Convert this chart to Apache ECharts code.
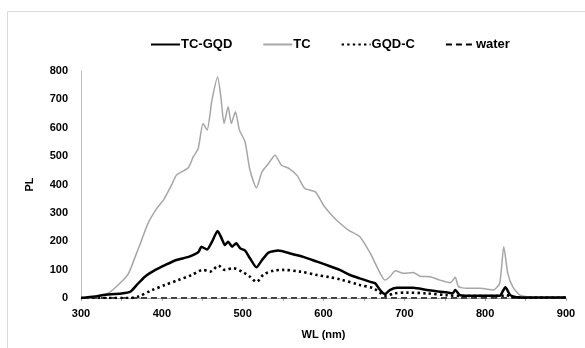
<!DOCTYPE html>
<html>
<head>
<meta charset="utf-8">
<script src="https://cdn.jsdelivr.net/npm/echarts@6/dist/echarts.min.js"></script>
<style>
  html, body { margin: 0; padding: 0; background: #fff; }
  #chart { width: 585px; height: 348px; }
</style>
</head>
<body>
<div id="chart"></div>
<script>
// readings (wavelength nm / PL)
const tcgqdWl = [300, 317, 326, 350, 361, 369, 379, 392, 404, 418, 433, 445, 449, 451, 456, 462, 469, 474, 478, 482, 487, 492, 497, 503, 509, 517, 524, 532, 544, 559, 575, 592, 608, 620, 633, 645, 658, 664, 670, 676, 682, 691, 711, 728, 744, 752, 760, 763, 769, 785, 806, 818, 825, 831, 839, 860, 900];
const tcgqdPL = [0, 5, 10, 16, 22, 46, 75, 99, 116, 134, 145, 161, 181, 178, 171, 198, 236, 210, 187, 198, 181, 193, 175, 167, 140, 108, 134, 160, 167, 157, 145, 128, 112, 99, 81, 69, 57, 52, 28, 14, 28, 36, 36, 28, 22, 20, 17, 28, 10, 8, 8, 8, 38, 10, 3, 2, 2];

const tcWl = [300, 317, 334, 350, 359, 367, 375, 383, 394, 402, 412, 418, 425, 433, 439, 445, 451, 456, 462, 469, 473, 477, 482, 486, 491, 496, 503, 509, 517, 524, 532, 540, 548, 557, 567, 577, 590, 600, 608, 616, 631, 645, 658, 668, 676, 682, 689, 699, 711, 719, 732, 744, 757, 763, 767, 777, 794, 810, 818, 823, 828, 834, 843, 860, 900];
const tcPL = [0, 3, 17, 57, 88, 145, 204, 264, 317, 345, 398, 433, 445, 460, 498, 527, 615, 592, 697, 779, 709, 615, 674, 615, 656, 592, 550, 451, 388, 445, 474, 503, 468, 457, 433, 386, 374, 327, 299, 275, 239, 216, 157, 99, 63, 75, 96, 87, 90, 77, 75, 63, 54, 73, 40, 34, 34, 28, 52, 181, 87, 40, 10, 2, 2];

const gqdcWl = [300, 360, 371, 388, 404, 420, 437, 451, 460, 470, 478, 488, 499, 509, 517, 526, 538, 550, 571, 592, 608, 620, 645, 662, 672, 678, 687, 703, 728, 752, 770, 800, 820, 825, 835, 860, 900];
const gqdcPL = [0, 0, 5, 28, 46, 63, 81, 99, 93, 114, 99, 105, 93, 75, 57, 83, 96, 99, 93, 81, 73, 66, 46, 34, 14, 8, 16, 19, 16, 10, 7, 7, 7, 10, 3, 2, 2];

const waterWl = [300, 400, 500, 600, 700, 800, 900];
const waterPL = [0, 0, 0, 0, 0, 0, 0];

const pairs = (xs, ys) => xs.map((x, i) => [x, ys[i]]);

const chart = echarts.init(document.getElementById('chart'));

const font = '"Liberation Sans", Arial, sans-serif';

const option = {
  animation: false,
  backgroundColor: '#fff',
  graphic: [{
    type: 'rect',
    shape: { x: 7.5, y: 11.5, width: 600, height: 400 },
    style: { fill: 'none', stroke: '#d9d9d9', lineWidth: 1 },
    silent: true
  }],
  legend: {
    top: 33,
    left: 145,
    itemWidth: 29,
    itemHeight: 10,
    itemGap: 30,
    itemStyle: { opacity: 0 },
    textStyle: { fontFamily: font, fontWeight: 'bold', fontSize: 13, color: '#000', padding: [0, 0, 0, -4] },
    data: ['TC-GQD', 'TC', 'GQD-C', 'water']
  },
  grid: { left: 81, right: 19, top: 71, bottom: 50 },
  xAxis: {
    type: 'value',
    min: 300,
    max: 900,
    interval: 100,
    name: 'WL (nm)',
    nameLocation: 'middle',
    nameGap: 31,
    nameTextStyle: { fontFamily: font, fontWeight: 'bold', fontSize: 11, color: '#000' },
    axisLine: { lineStyle: { color: '#a6a6a6', width: 1 } },
    axisTick: { show: true, length: 3, lineStyle: { color: '#a6a6a6' } },
    minorTick: { show: true, splitNumber: 2, length: 3, lineStyle: { color: '#a6a6a6' } },
    axisLabel: { fontFamily: font, fontWeight: 'bold', fontSize: 11, color: '#000', margin: 10 },
    splitLine: { show: false }
  },
  yAxis: {
    type: 'value',
    min: 0,
    max: 800,
    interval: 100,
    name: 'PL',
    nameLocation: 'middle',
    nameGap: 46,
    nameRotate: 90,
    nameTextStyle: { fontFamily: font, fontWeight: 'bold', fontSize: 11, color: '#000' },
    axisLine: { show: true, lineStyle: { color: '#bfbfbf', width: 1 } },
    axisTick: { show: false },
    axisLabel: { fontFamily: font, fontWeight: 'bold', fontSize: 11, color: '#000', margin: 13 },
    splitLine: { show: false }
  },
  series: [
    {
      name: 'TC-GQD', type: 'line', symbol: 'none', smooth: 0.2, z: 4,
      lineStyle: { color: '#000', width: 2.5 },
      itemStyle: { color: '#000' },
      data: pairs(tcgqdWl, tcgqdPL)
    },
    {
      name: 'TC', type: 'line', symbol: 'none', smooth: 0.2, z: 3,
      lineStyle: { color: '#a6a6a6', width: 1.5 },
      itemStyle: { color: '#a6a6a6' },
      data: pairs(tcWl, tcPL)
    },
    {
      name: 'GQD-C', type: 'line', symbol: 'none', smooth: 0.3, z: 2,
      lineStyle: { color: '#000', width: 2.6, type: [2.4, 3.2] },
      itemStyle: { color: '#000' },
      data: pairs(gqdcWl, gqdcPL)
    },
    {
      name: 'water', type: 'line', symbol: 'none', z: 1,
      lineStyle: { color: '#000', width: 1.3, type: [6, 4] },
      itemStyle: { color: '#000' },
      data: pairs(waterWl, waterPL)
    }
  ]
};

chart.setOption(option);
</script>
</body>
</html>
